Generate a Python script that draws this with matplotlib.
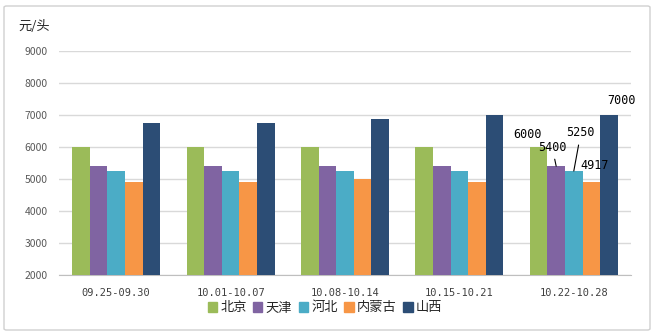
import numpy as np
import matplotlib.pyplot as plt
from matplotlib.patches import FancyBboxPatch, Patch

plt.rcParams['font.family'] = ['Noto Sans CJK SC', 'DejaVu Sans']

weeks = ['09.25-09.30', '10.01-10.07', '10.08-10.14', '10.15-10.21', '10.22-10.28']
regions = ['北京', '天津', '河北', '内蒙古', '山西']
beijing = [6000, 6000, 6000, 6000, 6000]
tianjin = [5400, 5400, 5400, 5400, 5400]
hebei = [5250, 5250, 5250, 5250, 5250]
neimenggu = [4917, 4917, 4990, 4917, 4917]
shanxi = [6750, 6750, 6875, 7000, 7000]
colors = ['#9bbb59', '#8064a2', '#4bacc6', '#f79646', '#2c4d75']

series = [beijing, tianjin, hebei, neimenggu, shanxi]

fig = plt.figure(figsize=(6.56, 3.36), dpi=100)
W, H = 656, 336
ax = fig.add_axes([59 / W, 1 - 275 / H, (631 - 59) / W, (275 - 51) / H])

# outer chart frame
fig.patches.append(FancyBboxPatch((4 / W, 6 / H), 646 / W, 324 / H,
                                  boxstyle='round,pad=0,rounding_size=0.004',
                                  transform=fig.transFigure, fill=False,
                                  edgecolor='#d0d0d0', linewidth=1.0))

x = np.arange(len(weeks))
bw = 0.154
for i, (vals, c) in enumerate(zip(series, colors)):
    ax.bar(x + (i - 2) * bw, vals, bw, color=c, label=regions[i], zorder=3)

ax.set_xlim(-0.5, len(weeks) - 0.5)
ax.set_ylim(2000, 9000)
ax.set_yticks(range(2000, 9001, 1000))
ax.yaxis.grid(True, color='#d9d9d9', linewidth=1.0, zorder=0)
ax.tick_params(axis='y', length=0, labelsize=7.5, labelcolor='#595959', pad=8)
ax.tick_params(axis='x', length=0, pad=9)
ax.set_xticks(x)
ax.set_xticklabels(weeks, family='DejaVu Sans Mono', fontsize=7.5, color='#404040')
for s in ['top', 'right', 'left']:
    ax.spines[s].set_visible(False)
ax.spines['bottom'].set_color('#bfbfbf')

fig.text(18 / W, 1 - 26 / H, '元/头', fontsize=9.5, color='#262626', va='center')

# value labels on the last week
last = len(weeks) - 1
lbl = dict(family='DejaVu Sans Mono', fontsize=8.5, color='black',
           textcoords='offset pixels', ha='center', va='center')
leader = dict(arrowstyle='-', color='black', lw=0.8, shrinkA=2, shrinkB=0)
ax.annotate(f'{beijing[last]}', (x[last] - 2 * bw, beijing[last]), xytext=(-11, 12), **lbl)
ax.annotate(f'{tianjin[last]}', (x[last] - bw, tianjin[last]), xytext=(-4, 19),
            arrowprops=leader, **lbl)
ax.annotate(f'{hebei[last]}', (x[last], hebei[last]), xytext=(7, 38),
            arrowprops=leader, **lbl)
ax.annotate(f'{neimenggu[last]}', (x[last] + bw, neimenggu[last]), xytext=(3, 16), **lbl)
ax.annotate(f'{shanxi[last]}', (x[last] + 2 * bw, shanxi[last]), xytext=(12, 14), **lbl)

handles = [Patch(color=c) for c in colors]
fig.legend(handles, regions, loc='center', bbox_to_anchor=(325 / W, 1 - 308 / H),
           ncol=5, frameon=False, fontsize=9.5, handlelength=0.7, handleheight=0.7,
           handletextpad=0.25, columnspacing=0.5, labelcolor='#262626')

fig.savefig('out.png', dpi=100)
